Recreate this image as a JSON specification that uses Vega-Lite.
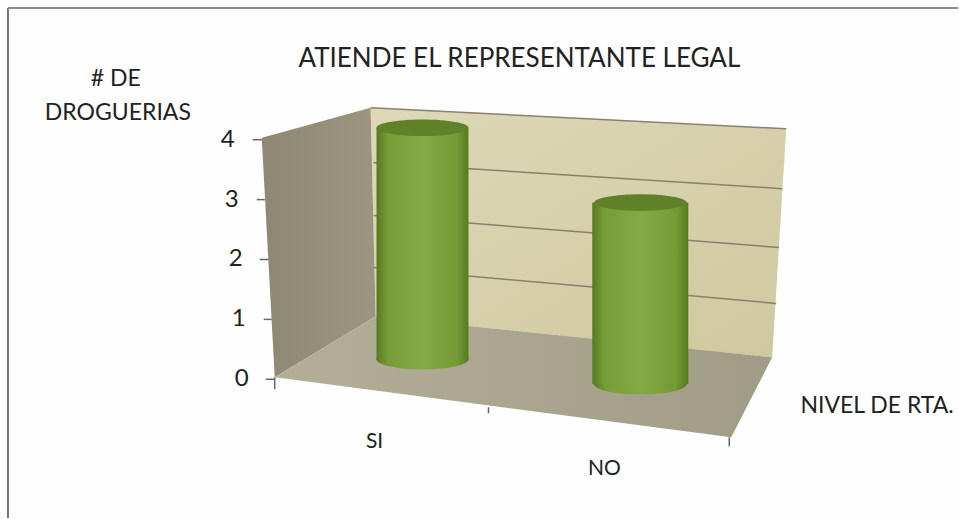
{"$schema":"https://vega.github.io/schema/vega-lite/v6.json","width":959,"height":519,"autosize":{"type":"fit","contains":"padding"},"padding":0,"background":"#fefefe","view":{"stroke":null},
"datasets":{
"back":[{"x":0.7546,"y":4.533,"y2":4.533},{"x":0.7778,"y":4.528,"y2":1.05},{"x":2.6157,"y":4.195,"y2":0.367},{"x":2.6806,"y":4.183,"y2":4.183}],
"side":[{"x":0.25,"y":4.033,"y2":4.033},{"x":0.3102,"y":4.093,"y2":0.033},{"x":0.7546,"y":4.533,"y2":1.0},{"x":0.7778,"y":1.05,"y2":1.05}],
"floor":[{"x":0.3102,"y":0.033,"y2":0.033},{"x":0.7778,"y":1.05,"y2":-0.188},{"x":2.4259,"y":0.437,"y2":-0.967},{"x":2.6157,"y":0.367,"y2":0.367}],
"grid":[{"nivel":1,"x":0.7685,"y":1.867},{"nivel":1,"x":2.634,"y":1.267},{"nivel":2,"x":0.7685,"y":2.733},{"nivel":2,"x":2.648,"y":2.2},{"nivel":3,"x":0.7685,"y":3.617},{"nivel":3,"x":2.662,"y":3.183},{"nivel":4,"x":0.7546,"y":4.533},{"nivel":4,"x":2.6806,"y":4.183}],
"ticksY":[{"valor":"4","x":0.2083,"x2":0.25,"y":4,"lx":0.0926},{"valor":"3","x":0.2269,"x2":0.2639,"y":3,"lx":0.1111},{"valor":"2","x":0.2407,"x2":0.2824,"y":2,"lx":0.1296},{"valor":"1","x":0.2593,"x2":0.2963,"y":1,"lx":0.1435},{"valor":"0","x":0.2685,"x2":0.3102,"y":0,"lx":0.1574}],
"ticksX":[{"x":0.3102,"y":0.033,"y2":-0.167},{"x":1.3009,"y":-0.467,"y2":-0.567},{"x":2.4167,"y":-0.967,"y2":-1.117}],
"cilindros":[{"respuesta":"SI","droguerias":4,"x":0.782,"x2":1.208,"cx":0.995,"y":4.2,"y2":0.333},{"respuesta":"NO","droguerias":3,"x":1.782,"x2":2.227,"cx":2.005,"y":2.95,"y2":-0.083}],
"textos":[{"rol":"titulo","texto":"ATIENDE EL REPRESENTANTE LEGAL","x":1.444,"y":5.35},{"rol":"eje","texto":"#  DE","x":-0.426,"y":5.017},{"rol":"eje","texto":"DROGUERIAS","x":-0.4167,"y":4.45},{"rol":"eje","texto":"NIVEL DE RTA.","x":3.102,"y":-0.45},{"rol":"cat","texto":"SI","x":0.773,"y":-1.05},{"rol":"cat","texto":"NO","x":1.838,"y":-1.5}],
"marcoV":[{"x":-0.926,"y":6.2,"y2":-2.31667}],
"marcoH":[{"x":-0.926,"x2":3.47685,"y":6.2}]
},
"encoding":{"x":{"field":"x","type":"quantitative","axis":null,"scale":{"domain":[-0.96296,3.47685],"nice":false,"zero":false}},"y":{"field":"y","type":"quantitative","axis":null,"scale":{"domain":[-2.31667,6.33333],"nice":false,"zero":false}}},
"layer":[
{"data":{"name":"marcoV"},"mark":{"type":"rule","color":"#777777","strokeWidth":2},"encoding":{"y2":{"field":"y2"}}},
{"data":{"name":"marcoH"},"mark":{"type":"rule","color":"#8a8a8a","strokeWidth":2},"encoding":{"x2":{"field":"x2"}}},
{"data":{"name":"back"},"mark":{"type":"area","fill":{"gradient":"linear","x1":0,"y1":0,"x2":1,"y2":1,"stops":[{"offset":0,"color":"#dfd8b8"},{"offset":1,"color":"#cfc89f"}]}},"encoding":{"y2":{"field":"y2"}}},
{"data":{"name":"side"},"mark":{"type":"area","fill":{"gradient":"linear","x1":0,"y1":0,"x2":1,"y2":0,"stops":[{"offset":0,"color":"#8d8873"},{"offset":1,"color":"#9c9680"}]}},"encoding":{"y2":{"field":"y2"}}},
{"data":{"name":"floor"},"mark":{"type":"area","fill":{"gradient":"linear","x1":0,"y1":0,"x2":1,"y2":0,"stops":[{"offset":0,"color":"#b3ae97"},{"offset":1,"color":"#a09c86"}]}},"encoding":{"y2":{"field":"y2"}}},
{"data":{"name":"grid"},"mark":{"type":"line","color":"#86826f","strokeWidth":1.5},"encoding":{"detail":{"field":"nivel"}}},
{"data":{"name":"ticksY"},"mark":{"type":"rule","color":"#666666","strokeWidth":1.5},"encoding":{"x2":{"field":"x2"}}},
{"data":{"name":"ticksX"},"mark":{"type":"rule","color":"#666666","strokeWidth":1.5},"encoding":{"y2":{"field":"y2"}}},
{"data":{"name":"ticksY"},"mark":{"type":"text","font":"Lato","fontSize":24,"color":"#222222","align":"center","baseline":"middle"},"encoding":{"x":{"field":"lx","type":"quantitative"},"text":{"field":"valor"}}},
{"data":{"name":"cilindros"},"mark":{"type":"point","filled":true,"opacity":1,"size":8500,"shape":"M-1,0 A1,0.22 0 1 1 1,0 A1,0.22 0 1 1 -1,0 Z","fill":{"gradient":"linear","x1":0,"y1":0,"x2":1,"y2":0,"stops":[{"offset":0,"color":"#557a20"},{"offset":0.12,"color":"#769c36"},{"offset":0.5,"color":"#84aa45"},{"offset":0.88,"color":"#749a34"},{"offset":1,"color":"#567a1f"}]}},"encoding":{"x":{"field":"cx","type":"quantitative"},"y":{"field":"y2","type":"quantitative"}}},
{"data":{"name":"cilindros"},"mark":{"type":"rect","fill":{"gradient":"linear","x1":0,"y1":0,"x2":1,"y2":0,"stops":[{"offset":0,"color":"#557a20"},{"offset":0.12,"color":"#769c36"},{"offset":0.5,"color":"#84aa45"},{"offset":0.88,"color":"#749a34"},{"offset":1,"color":"#567a1f"}]}},"encoding":{"x2":{"field":"x2"},"y2":{"field":"y2"}}},
{"data":{"name":"cilindros"},"mark":{"type":"point","filled":true,"opacity":1,"size":8500,"shape":"M-1,0 A1,0.18 0 1 1 1,0 A1,0.18 0 1 1 -1,0 Z","fill":"#5f8229"},"encoding":{"x":{"field":"cx","type":"quantitative"}}},
{"data":{"name":"textos"},"transform":[{"filter":"datum.rol==='titulo'"}],"mark":{"type":"text","font":"Lato","fontSize":26,"color":"#222222","align":"center","baseline":"middle"},"encoding":{"text":{"field":"texto"}}},
{"data":{"name":"textos"},"transform":[{"filter":"datum.rol==='eje'"}],"mark":{"type":"text","font":"Lato","fontSize":23,"color":"#222222","align":"center","baseline":"middle"},"encoding":{"text":{"field":"texto"}}},
{"data":{"name":"textos"},"transform":[{"filter":"datum.rol==='cat'"}],"mark":{"type":"text","font":"Lato","fontSize":21,"color":"#222222","align":"center","baseline":"middle"},"encoding":{"text":{"field":"texto"}}}
]}
